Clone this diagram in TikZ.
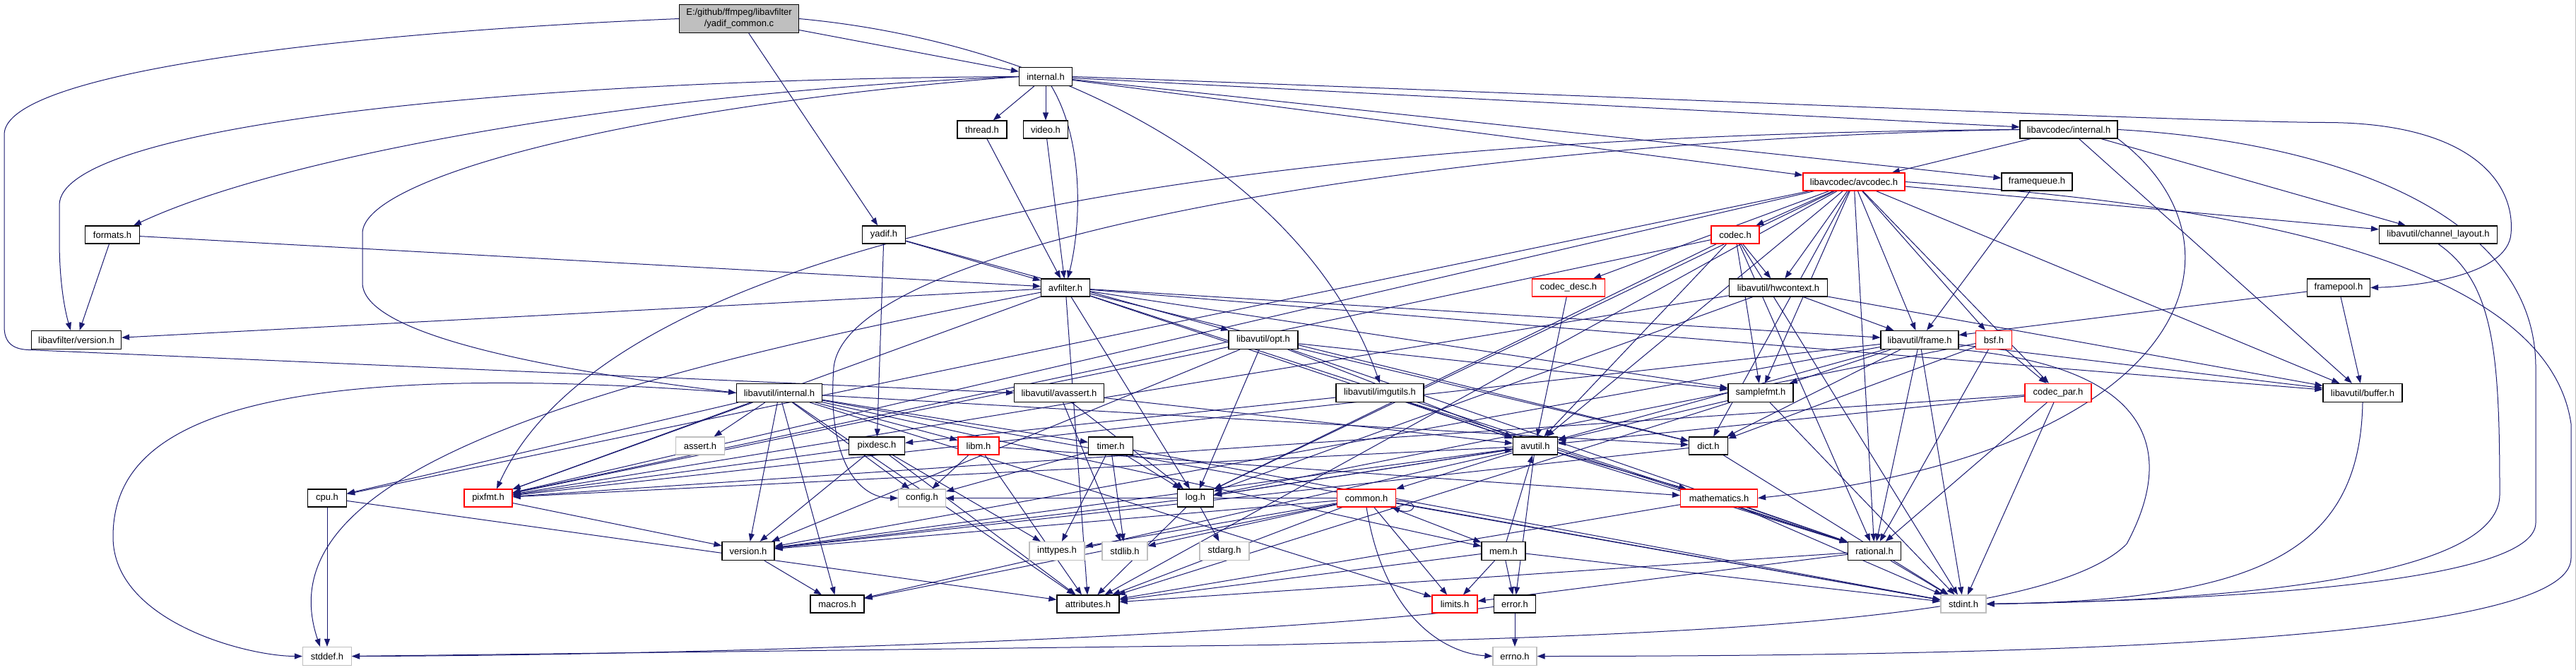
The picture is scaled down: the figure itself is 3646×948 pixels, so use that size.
\documentclass[tikz,border=0pt]{standalone}
\usepackage{fontspec}
\setmainfont{Liberation Sans}
\usetikzlibrary{arrows.meta}
\definecolor{edgec}{HTML}{191970}
\definecolor{grayb}{HTML}{BFBFBF}
\pgfdeclarelayer{bg}
\pgfdeclarelayer{canvas}
\pgfsetlayers{canvas,bg,main}
\newcommand\nd[6]{\node[#1,minimum width=#4pt,minimum height=#5pt] (#2) at (#3) {#6};}
\begin{document}
\begin{tikzpicture}[x=1pt,y=-1pt,
  box/.style={draw=black,line width=1.2pt,fill=white,inner sep=0pt,font=\fontsize{13}{16}\selectfont},
  trunc/.style={box,draw=red},
  sys/.style={box,draw=grayb},
  rootb/.style={box,fill=grayb,align=center},
  e/.style={draw=edgec,line width=1pt,-{Triangle[length=11pt,width=8pt]}}]
\begin{pgfonlayer}{canvas}
\fill[white] (0,0) rectangle (3646,948);
\draw[grayb,line width=1pt] (3645.5,0) -- (3645.5,948);
\end{pgfonlayer}
\useasboundingbox (0,0) rectangle (3646,948);
% nodes
\nd{rootb}{R}{1046,26}{169}{40}{E:/github/ffmpeg/libavfilter\\/yadif\_common.c}
\nd{box}{Lint}{1480,108}{75}{26}{internal.h}
\nd{box}{thread}{1390,183}{70}{25}{thread.h}
\nd{box}{video}{1480,183}{63}{25}{video.h}
\nd{box}{yadif}{1251,332}{61}{25}{yadif.h}
\nd{box}{avfilter}{1508,407}{69}{25}{avfilter.h}
\nd{box}{formats}{159,332}{77}{25}{formats.h}
\nd{box}{lfver}{108,481}{127}{26}{libavfilter/version.h}
\nd{box}{lcint}{2928,183}{138}{25}{libavcodec/internal.h}
\nd{trunc}{avcodec}{2624,257}{144}{25}{libavcodec/avcodec.h}
\nd{box}{fqueue}{2883,257}{100}{25}{framequeue.h}
\nd{trunc}{codec}{2456,332}{68}{25}{codec.h}
\nd{trunc}{codecdesc}{2220,407}{103}{25}{codec\_desc.h}
\nd{box}{hwctx}{2517,407}{139}{25}{libavutil/hwcontext.h}
\nd{box}{chlayout}{3451,332}{167}{25}{libavutil/channel\_layout.h}
\nd{box}{fpool}{3310,407}{89}{25}{framepool.h}
\nd{box}{opt}{1788,481}{98}{26}{libavutil/opt.h}
\nd{box}{frame}{2717,481}{110}{26}{libavutil/frame.h}
\nd{trunc}{bsf}{2822,481}{51}{26}{bsf.h}
\nd{box}{luint}{1103,556}{121}{26}{libavutil/internal.h}
\nd{box}{avassert}{1499,556}{127}{26}{libavutil/avassert.h}
\nd{box}{imgutils}{1953,556}{124}{26}{libavutil/imgutils.h}
\nd{box}{samplefmt}{2492,556}{92}{26}{samplefmt.h}
\nd{trunc}{codecpar}{2913,556}{94}{26}{codec\_par.h}
\nd{box}{buffer}{3344,556}{112}{26}{libavutil/buffer.h}
\nd{sys}{assert}{991,631}{69}{25}{assert.h}
\nd{box}{pixdesc}{1241,631}{79}{25}{pixdesc.h}
\nd{trunc}{libm}{1385,631}{58}{25}{libm.h}
\nd{box}{timer}{1572,631}{63}{25}{timer.h}
\nd{box}{avutil}{2173,631}{63}{25}{avutil.h}
\nd{box}{dict}{2418,631}{55}{25}{dict.h}
\nd{trunc}{pixfmt}{691,705}{68}{25}{pixfmt.h}
\nd{box}{cpu}{463,705}{55}{25}{cpu.h}
\nd{sys}{config}{1305,705}{67}{25}{config.h}
\nd{box}{log}{1692,705}{51}{25}{log.h}
\nd{trunc}{common}{1934,705}{83}{25}{common.h}
\nd{trunc}{math}{2433,705}{109}{25}{mathematics.h}
\nd{box}{version}{1059,780}{74}{26}{version.h}
\nd{sys}{inttypes}{1496,780}{78}{26}{inttypes.h}
\nd{sys}{stdlib}{1592,780}{64}{26}{stdlib.h}
\nd{sys}{stdarg}{1733,780}{70}{26}{stdarg.h}
\nd{box}{mem}{2128,780}{62}{26}{mem.h}
\nd{box}{rational}{2653,780}{75}{26}{rational.h}
\nd{box}{macros}{1185,855}{76}{25}{macros.h}
\nd{box}{attributes}{1540,855}{88}{25}{attributes.h}
\nd{trunc}{limits}{2059,855}{64}{25}{limits.h}
\nd{box}{error}{2144,855}{59}{25}{error.h}
\nd{sys}{stdint}{2779,855}{64}{25}{stdint.h}
\nd{sys}{stddef}{463,929}{69}{26}{stddef.h}
\nd{sys}{errno}{2144,929}{62}{26}{errno.h}
% edges
\begin{pgfonlayer}{bg}
\foreach \a/\b in {R/Lint,R/yadif,
  Lint/thread,Lint/video,Lint/lcint,Lint/avcodec,Lint/fqueue,
  yadif/pixdesc,yadif/avfilter,yadif/opt,thread/avfilter,video/avfilter,
  formats/avfilter,formats/lfver,
  avfilter/attributes,avfilter/avutil,avfilter/buffer,avfilter/dict,avfilter/frame,avfilter/log,avfilter/samplefmt,avfilter/pixfmt,avfilter/rational,avfilter/lfver,
  opt/rational,opt/avutil,opt/dict,opt/log,opt/pixfmt,opt/samplefmt,opt/version,
  luint/limits,luint/stdint,luint/assert,luint/config,luint/attributes,luint/timer,luint/cpu,luint/dict,luint/macros,luint/mem,luint/pixfmt,luint/version,luint/libm,
  avassert/stdlib,avassert/avutil,avassert/log,
  imgutils/avutil,imgutils/pixdesc,imgutils/rational,
  pixdesc/inttypes,pixdesc/attributes,pixdesc/pixfmt,pixdesc/version,
  libm/config,libm/attributes,libm/math,
  timer/stdlib,timer/stdint,timer/inttypes,timer/config,timer/log,
  log/stdarg,log/avutil,log/attributes,log/version,
  cpu/stddef,cpu/attributes,version/macros,pixfmt/version,
  avutil/common,avutil/error,avutil/rational,avutil/version,avutil/macros,avutil/math,avutil/log,avutil/pixfmt,
  common/inttypes,common/limits,common/stdint,common/stdlib,common/attributes,common/macros,common/version,common/config,common/mem,
  mem/limits,mem/stdint,mem/attributes,mem/error,mem/avutil,
  error/errno,
  rational/stdint,rational/limits,rational/attributes,
  math/stdint,math/attributes,math/rational,
  dict/stdint,dict/version,
  samplefmt/stdint,samplefmt/avutil,samplefmt/attributes,
  frame/stdint,frame/avutil,frame/buffer,frame/dict,frame/rational,frame/samplefmt,frame/pixfmt,frame/version,
  hwctx/buffer,hwctx/frame,hwctx/log,hwctx/pixfmt,
  fpool/buffer,fpool/frame,fqueue/frame,
  bsf/codecpar,bsf/dict,bsf/log,bsf/rational,
  codecpar/stdint,codecpar/avutil,codecpar/rational,codecpar/pixfmt,
  codec/stdint,codec/avutil,codec/hwctx,codec/log,codec/pixfmt,codec/rational,codec/samplefmt,
  codecdesc/avutil,
  avcodec/samplefmt,avcodec/attributes,avcodec/avutil,avcodec/buffer,avcodec/cpu,avcodec/chlayout,avcodec/dict,avcodec/frame,avcodec/hwctx,avcodec/log,avcodec/pixfmt,avcodec/rational,avcodec/bsf,avcodec/codec,avcodec/codecdesc,avcodec/codecpar,
  lcint/buffer,lcint/chlayout,lcint/avcodec}
  {\draw[e] (\a) -- (\b);}
% routed edges
\draw[e] (R.west) .. controls (500,45) and (6,100) .. (6,190) -- (6,462) .. controls (6,482) and (15,494) .. (40,495) -- (avassert.west);
\draw[e] (R.east) .. controls (1500,60) and (1850,250) .. (imgutils.north);
\draw[e] (Lint) .. controls (1535,200) and (1530,320) .. (avfilter);
\draw[e] (Lint.west) .. controls (700,112) and (84,180) .. (84,290) -- (84,340) .. controls (84,400) and (92,440) .. ([xshift=-8pt]lfver.north);
\draw[e] (Lint.west) .. controls (900,130) and (400,220) .. ([xshift=30pt]formats.north);
\draw[e] (Lint.west) .. controls (900,150) and (513,250) .. (513,330) -- (513,400) .. controls (513,470) and (750,520) .. (luint.west);
\draw[e] (Lint.east) .. controls (2400,140) and (3100,172) .. (3290,173) .. controls (3500,173) and (3560,260) .. (3554,330) .. controls (3550,390) and (3420,405) .. (fpool.east);
\draw[e] (avcodec.east) .. controls (3000,280) and (3600,330) .. (3639,600) -- (3639,790) .. controls (3639,900) and (3000,929) .. (errno.east);
\draw[e] (chlayout.south) .. controls (3530,400) and (3538,500) .. (3538,700) .. controls (3538,840) and (3000,852) .. (stdint.east);
\draw[e] (lcint.east) .. controls (3300,200) and (3589,300) .. (3589,520) -- (3589,740) .. controls (3589,830) and (3100,850) .. (stdint.east);
\draw[e] (buffer.south) .. controls (3340,780) and (3200,850) .. (stdint.east);
\draw[e] (lcint.south east) .. controls (3200,350) and (3100,640) .. (math.east);
\draw[e] (lcint.west) .. controls (2100,188) and (900,260) .. ([xshift=12pt]pixfmt.north);
\draw[e] (lcint.west) .. controls (2100,195) and (1200,330) .. (1180,520) .. controls (1170,660) and (1220,705) .. (config.west);
\draw[e] (frame.south east) .. controls (3050,520) and (3080,640) .. (3010,770) .. controls (2900,880) and (2400,898) .. (1800,913) -- (stddef.east);
\draw[e] (error) .. controls (1800,900) and (1000,928) .. (stddef.east);
\draw[e] (avfilter) .. controls (700,560) and (380,700) .. ([xshift=-10pt]stddef.north);
\draw[e] (luint.west) .. controls (300,500) and (160,620) .. (160,760) .. controls (160,880) and (350,929) .. (stddef.west);
\draw[e] (common.south) .. controls (1960,880) and (2050,925) .. (errno.west);
\draw[e] ([yshift=-4pt]common.east) .. controls +(40,0) and +(30,12) .. ([xshift=-6pt]common.south east);
\end{pgfonlayer}
\end{tikzpicture}
\end{document}
